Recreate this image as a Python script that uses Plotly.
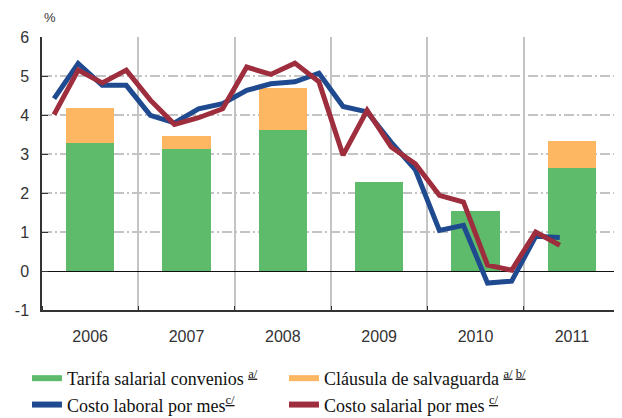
import plotly.graph_objects as go

# --------------------------
# Data
# --------------------------
years = ["2006", "2007", "2008", "2009", "2010", "2011"]
tarifa = [3.29, 3.14, 3.61, 2.27, 1.53, 2.63]
clausula = [0.89, 0.32, 1.08, None, None, 0.70]

# quarterly series, 2006Q1 .. 2011Q2
quarters = [(y, q) for y in years for q in (1, 2, 3, 4)][:22]
costo_laboral = [4.42, 5.32, 4.76, 4.76, 3.99, 3.80, 4.16, 4.29, 4.63, 4.80, 4.85,
                 5.07, 4.22, 4.08, 3.30, 2.60, 1.04, 1.17, -0.31, -0.26, 0.89, 0.86]
costo_salarial = [4.01, 5.15, 4.82, 5.15, 4.38, 3.76, 3.93, 4.16, 5.23, 5.04, 5.33,
                  4.85, 2.97, 4.12, 3.18, 2.75, 1.94, 1.77, 0.15, 0.02, 1.00, 0.66]

y_ticks = [-1, 0, 1, 2, 3, 4, 5, 6]
y_labels = ["-1", "0", "1", "2", "3", "4", "5", "6"]

GREEN = "#5dbb6b"
ORANGE = "#fdb661"
BLUE = "#1f4a8f"
RED = "#9e2d3d"

x_year = [i + 0.5 for i in range(len(years))]
x_q = [years.index(y) + (q - 0.5) / 4 for y, q in quarters]

fig = go.Figure()

fig.add_trace(go.Bar(x=x_year, y=tarifa, width=0.5, marker_color=GREEN,
                     marker_line_width=0, showlegend=False))
fig.add_trace(go.Bar(x=x_year, y=clausula, width=0.5, marker_color=ORANGE,
                     marker_line_width=0, showlegend=False))
fig.add_trace(go.Scatter(x=x_q, y=costo_laboral, mode="lines",
                         line=dict(color=BLUE, width=5), showlegend=False))
fig.add_trace(go.Scatter(x=x_q, y=costo_salarial, mode="lines",
                         line=dict(color=RED, width=5), showlegend=False))

# legend entries (thick swatches like the original)
legend_items = [
    ("Tarifa salarial convenios <sup><u>a/</u></sup>", GREEN),
    ("Cláusula de salvaguarda <sup><u>a/</u> <u>b/</u></sup>", ORANGE),
    ("Costo laboral por mes<sup><u>c/</u></sup>", BLUE),
    ("Costo salarial por mes <sup><u>c/</u></sup>", RED),
]
for name, col in legend_items:
    fig.add_trace(go.Scatter(x=[None], y=[None], mode="lines", name=name,
                             line=dict(color=col, width=6)))

fig.add_annotation(text="%", x=0.0, y=1.07, xref="paper", yref="paper",
                   xanchor="left", yanchor="middle", showarrow=False,
                   font=dict(size=13, color="#333333"))

# page body has an 8px margin, so the figure is sized/offset to compensate
fig.update_layout(
    width=614, height=410,
    margin=dict(l=34, r=2, t=29, b=108, autoexpand=False),
    barmode="stack",
    plot_bgcolor="white",
    paper_bgcolor="white",
    font=dict(family="Liberation Sans", size=16, color="#333333"),
    legend=dict(
        orientation="h", x=-0.026, xanchor="left", y=-0.183, yanchor="top",
        entrywidth=212, entrywidthmode="pixels", traceorder="normal",
        font=dict(family="Times New Roman, Liberation Serif, serif", size=18,
                  color="#111111"),
        itemwidth=30, tracegroupgap=0,
    ),
)

fig.update_xaxes(
    range=[0, 6], tickvals=x_year, ticktext=years, ticks="",
    showgrid=False, zeroline=False,
    showline=True, linecolor="#333333", linewidth=1.5,
    minor=dict(tick0=0, dtick=1, showgrid=True, gridcolor="#c4c4c4",
               gridwidth=1.5, ticks="inside", ticklen=4, tickcolor="#333333"),
    ticklabelstandoff=11,
)
fig.update_yaxes(
    range=[-1, 6], tickvals=y_ticks, ticktext=y_labels,
    ticks="inside", ticklen=6, tickcolor="#333333",
    showline=True, linecolor="#333333", linewidth=1.5,
    showgrid=True, gridcolor="#c4c4c4", gridwidth=1.5, griddash="10px,3px,2px,3px",
    zeroline=True, zerolinecolor="#111111", zerolinewidth=1.2,
    ticklabelstandoff=8,
)

fig.write_html("out.html")
